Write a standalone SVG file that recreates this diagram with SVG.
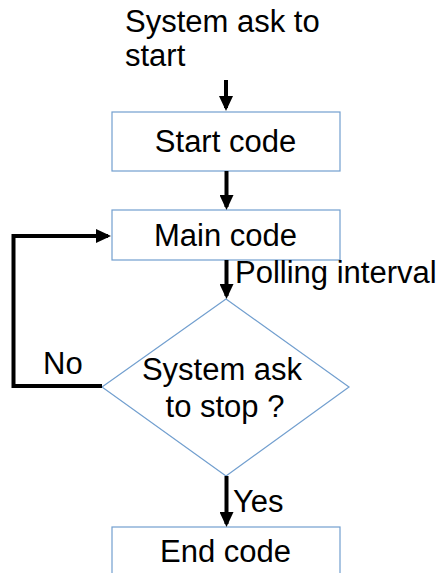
<svg xmlns="http://www.w3.org/2000/svg" width="438" height="573" viewBox="0 0 438 573">
<style>
.box{fill:#fff;stroke:#729fcf;stroke-width:1.2}
.t{font-family:"Liberation Sans",Arial,sans-serif;font-size:31px;fill:#000}
.c{text-anchor:middle}
.ln{fill:none;stroke:#000;stroke-width:4}
</style>
<defs>
<marker id="ah" markerUnits="userSpaceOnUse" markerWidth="15" markerHeight="14" refX="12" refY="7" orient="auto">
<path d="M0,0 L15,7 L0,14 z" fill="#000"/>
</marker>
</defs>
<rect width="438" height="573" fill="#fff"/>
<g id="start-label">
<text class="t" x="125" y="32">System ask to</text>
<text class="t" x="125" y="66">start</text>
</g>
<g id="start-code">
<rect class="box" x="112" y="112" width="228" height="59"/>
<text class="t c" x="225.5" y="152">Start code</text>
</g>
<g id="main-code">
<rect class="box" x="112" y="210" width="228" height="50"/>
<text class="t c" x="225.5" y="246">Main code</text>
</g>
<g id="decision">
<polygon class="box" points="226,299 349,387 226,476 102,387"/>
<text class="t c" x="222" y="380">System ask</text>
<text class="t c" x="225" y="417">to stop ?</text>
</g>
<g id="end-code">
<rect class="box" x="112" y="527" width="228" height="80"/>
<text class="t c" x="225.5" y="562">End code</text>
</g>
<g id="connectors">
<line class="ln" x1="226" y1="80" x2="226" y2="108" marker-end="url(#ah)"/>
<line class="ln" x1="226.5" y1="171" x2="226.5" y2="207" marker-end="url(#ah)"/>
<line class="ln" x1="226.5" y1="260" x2="226.5" y2="296" marker-end="url(#ah)"/>
<line class="ln" x1="226.5" y1="476" x2="226.5" y2="524" marker-end="url(#ah)"/>
<path class="ln" d="M102,386 L13.5,386 L13.5,236 L108,236" stroke-width="4.8" marker-end="url(#ah)"/>
<text class="t" x="235" y="283">Polling interval</text>
<text class="t" x="43" y="374">No</text>
<text class="t" x="233" y="512">Yes</text>
</g>
</svg>
